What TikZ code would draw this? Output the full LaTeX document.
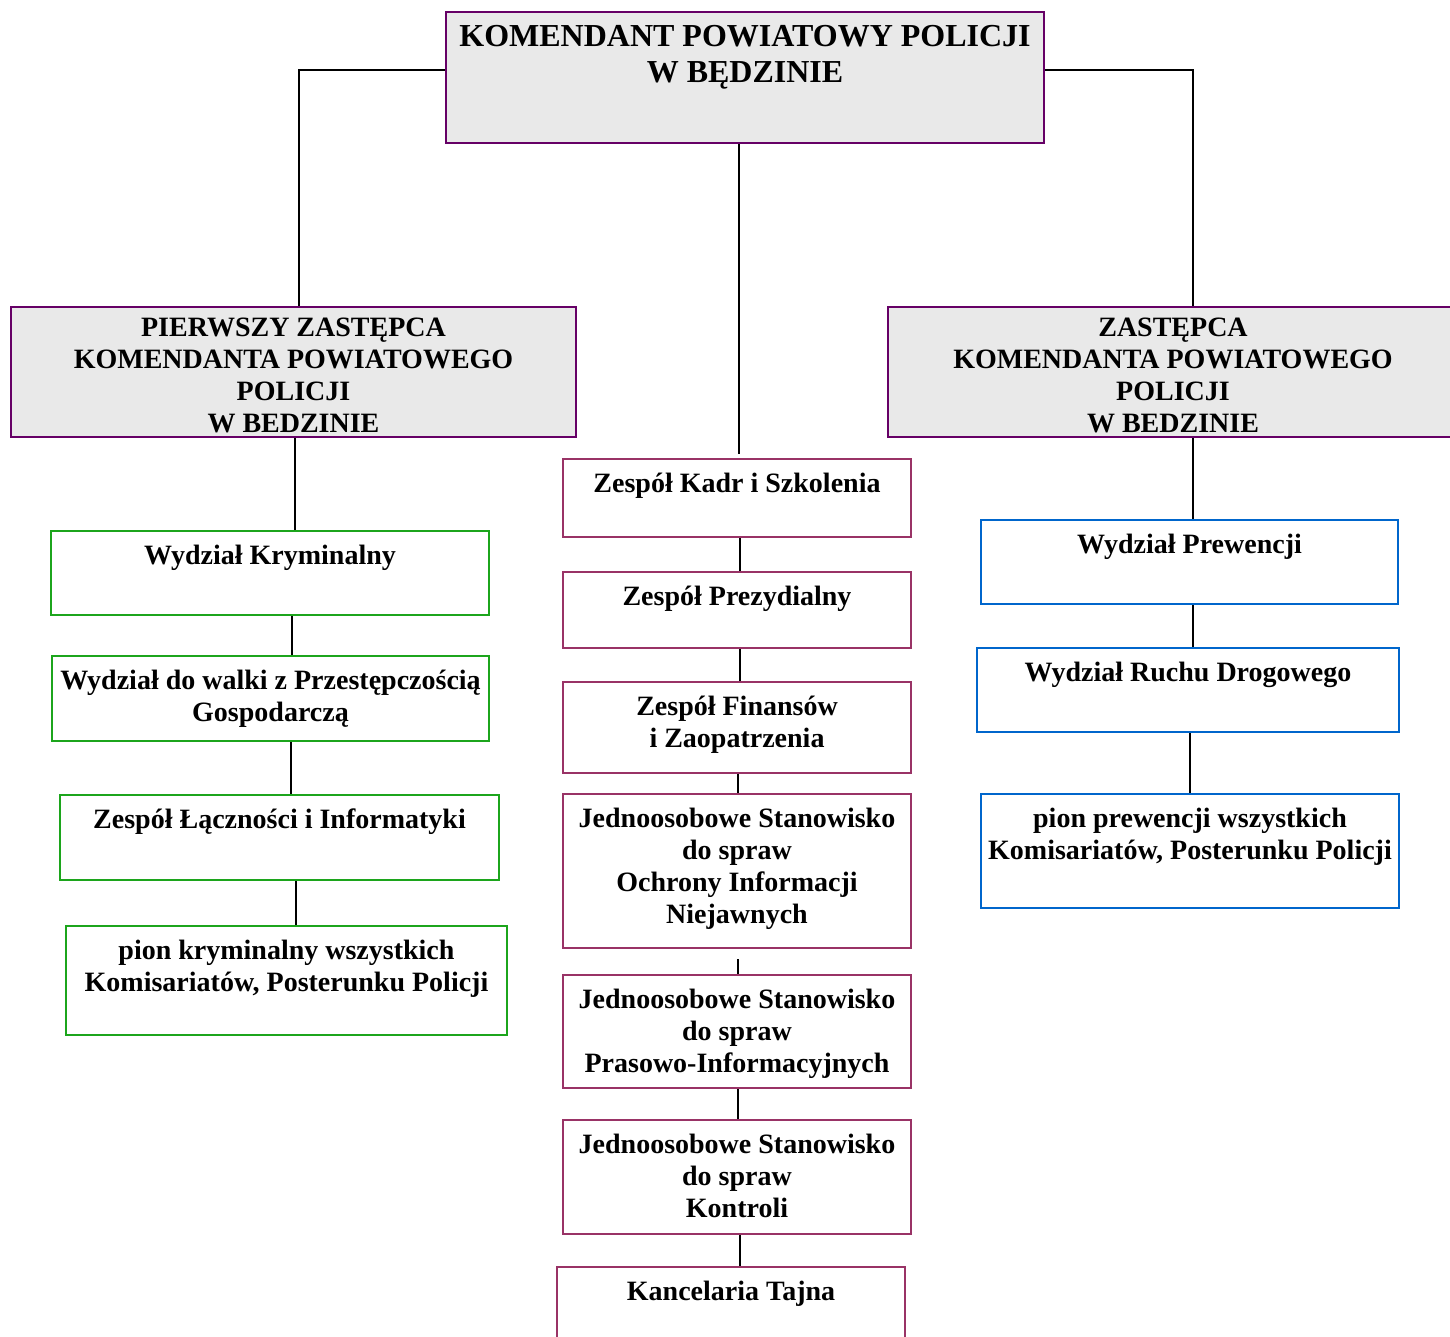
\documentclass[tikz,border=0pt]{standalone}
\usepackage{fontspec}
\setmainfont{Liberation Serif}
\usepackage{tikz}

\definecolor{chiefline}{HTML}{660066}
\definecolor{chieffill}{HTML}{E9E9E9}
\definecolor{staffline}{HTML}{993366}
\definecolor{crimline}{HTML}{1CA51C}
\definecolor{prevline}{HTML}{0066CC}

\begin{document}
\begin{tikzpicture}[x=1pt,y=-1pt,
	box/.style={draw, line width=2pt, inner sep=0pt},
	chief/.style={box, draw=chiefline, fill=chieffill},
	staff/.style={box, draw=staffline, minimum width=348pt},
	crim/.style={box, draw=crimline},
	prev/.style={box, draw=prevline},
	txt/.style={anchor=north, align=center, inner sep=0pt, yshift=-15pt, font=\bfseries\fontsize{28}{32}\selectfont},
	headtxt/.style={txt, yshift=3pt},
	toptxt/.style={txt, yshift=1pt, font=\bfseries\fontsize{32}{36}\selectfont},
	link/.style={line width=1.8pt}]

\useasboundingbox (0,0) rectangle (1450,1336);
\clip (0,0) rectangle (1450,1336);

\node[chief, minimum width=598pt, minimum height=131pt, label={[toptxt]north:KOMENDANT POWIATOWY POLICJI\\W BĘDZINIE}] (komendant) at (745,77.5) {};
\node[chief, minimum width=565pt, minimum height=130pt, label={[headtxt]north:PIERWSZY ZASTĘPCA\\KOMENDANTA POWIATOWEGO\\POLICJI\\W BEDZINIE}] (zastA) at (293.5,372) {};
\node[chief, minimum width=570pt, minimum height=130pt, label={[headtxt]north:ZASTĘPCA\\KOMENDANTA POWIATOWEGO\\POLICJI\\W BEDZINIE}] (zastB) at (1173,372) {};

\node[crim, minimum width=438pt, minimum height=84pt, label={[txt]north:Wydział Kryminalny}] (kryminalny) at (270,573) {};
\node[crim, minimum width=437pt, minimum height=85pt, label={[txt]north:Wydział do walki z Przestępczością\\Gospodarczą}] (gosp) at (270.5,698.5) {};
\node[crim, minimum width=439pt, minimum height=85pt, label={[txt]north:Zespół Łączności i Informatyki}] (lacznosc) at (279.5,837.5) {};
\node[crim, minimum width=441pt, minimum height=109pt, label={[txt]north:{pion kryminalny wszystkich\\Komisariatów, Posterunku Policji}}] (pionk) at (286.5,980.5) {};

\node[staff, minimum height=78pt, label={[txt]north:Zespół Kadr i Szkolenia}] (kadry) at (737,498) {};
\node[staff, minimum height=76pt, label={[txt]north:Zespół Prezydialny}] (prezyd) at (737,610) {};
\node[staff, minimum height=91pt, label={[txt]north:Zespół Finansów\\i Zaopatrzenia}] (finanse) at (737,727.5) {};
\node[staff, minimum height=154pt, label={[txt]north:Jednoosobowe Stanowisko\\do spraw\\Ochrony Informacji\\Niejawnych}] (ochrona) at (737,871) {};
\node[staff, minimum height=113pt, label={[txt]north:Jednoosobowe Stanowisko\\do spraw\\Prasowo-Informacyjnych}] (prasa) at (737,1031.5) {};
\node[staff, minimum height=114pt, label={[txt]north:Jednoosobowe Stanowisko\\do spraw\\Kontroli}] (kontrola) at (737,1177) {};
\node[staff, minimum height=90pt, label={[txt]north:Kancelaria Tajna}] (kancelaria) at (731,1312) {};

\node[prev, minimum width=417pt, minimum height=84pt, label={[txt]north:Wydział Prewencji}] (prewencja) at (1189.5,562) {};
\node[prev, minimum width=422pt, minimum height=84pt, label={[txt]north:Wydział Ruchu Drogowego}] (ruch) at (1188,690) {};
\node[prev, minimum width=418pt, minimum height=114pt, label={[txt]north:{pion prewencji wszystkich\\Komisariatów, Posterunku Policji}}] (pionp) at (1190,851) {};

\draw[link] ([yshift=7.5pt]komendant.west) -| ([xshift=5.5pt]zastA.north);
\draw[link] ([yshift=7.5pt]komendant.east) -| ([xshift=20pt]zastB.north);
\draw[link, shorten >=4pt] ([xshift=-6pt]komendant.south) -- ([xshift=-6pt]komendant.south |- kadry.north);

\draw[link] ([xshift=1.5pt]zastA.south) -- ([xshift=1.5pt]zastA.south |- kryminalny.north);
\draw[link] ([xshift=22pt]kryminalny.south) -- ([xshift=22pt]kryminalny.south |- gosp.north);
\draw[link] ([xshift=20.5pt]gosp.south) -- ([xshift=20.5pt]gosp.south |- lacznosc.north);
\draw[link] ([xshift=16.5pt]lacznosc.south) -- ([xshift=16.5pt]lacznosc.south |- pionk.north);

\draw[link] ([xshift=3pt]kadry.south) -- ([xshift=3pt]kadry.south |- prezyd.north);
\draw[link] ([xshift=3pt]prezyd.south) -- ([xshift=3pt]prezyd.south |- finanse.north);
\draw[link] ([xshift=1pt]finanse.south) -- ([xshift=1pt]finanse.south |- ochrona.north);
\draw[link, shorten <=10pt] ([xshift=1pt]ochrona.south) -- ([xshift=1pt]ochrona.south |- prasa.north);
\draw[link] ([xshift=1pt]prasa.south) -- ([xshift=1pt]prasa.south |- kontrola.north);
\draw[link] ([xshift=3pt]kontrola.south) -- ([xshift=3pt]kontrola.south |- kancelaria.north);

\draw[link] ([xshift=20pt]zastB.south) -- ([xshift=20pt]zastB.south |- prewencja.north);
\draw[link] ([xshift=3.5pt]prewencja.south) -- ([xshift=3.5pt]prewencja.south |- ruch.north);
\draw[link] ([xshift=2pt]ruch.south) -- ([xshift=2pt]ruch.south |- pionp.north);
\end{tikzpicture}
\end{document}
